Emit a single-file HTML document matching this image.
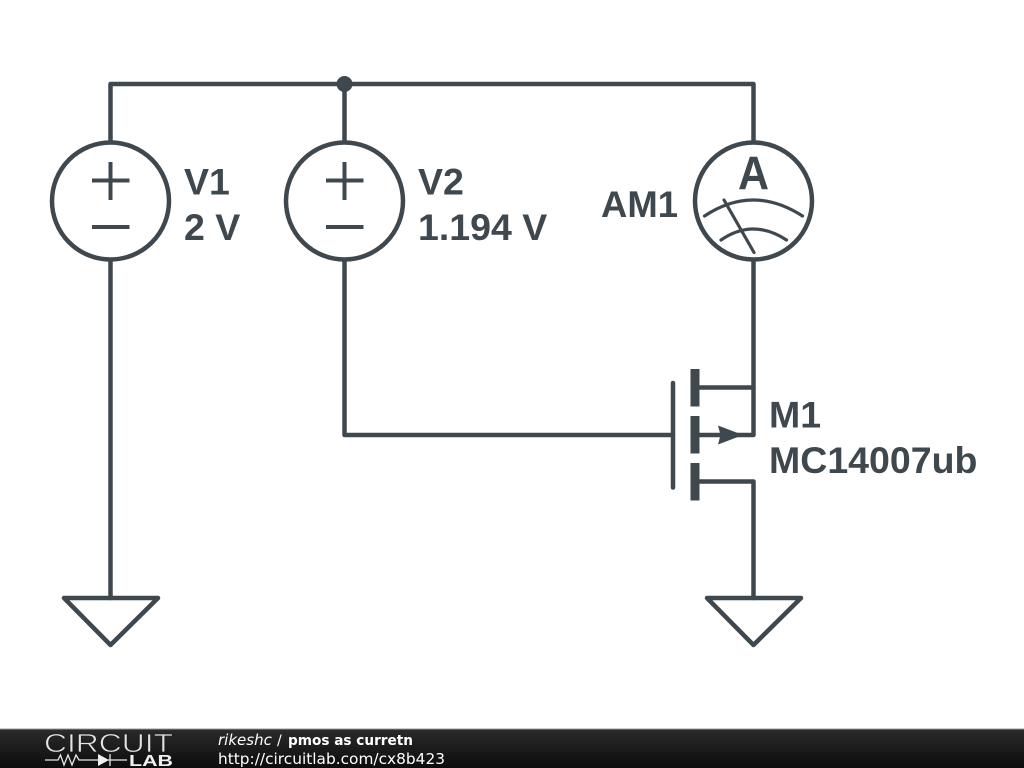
<!DOCTYPE html>
<html>
<head>
<meta charset="utf-8">
<style>
html,body{margin:0;padding:0;background:#fff;width:1024px;height:768px;overflow:hidden}
svg{display:block}
.l{font-family:"Liberation Sans",sans-serif;font-weight:700;font-size:37.500px;fill:#3f484e}
</style>
</head>
<body>
<svg width="1024" height="768" viewBox="0 0 1024 768" xmlns="http://www.w3.org/2000/svg">
<defs>
<linearGradient id="bar" x1="0" y1="0" x2="0" y2="1">
<stop offset="0" stop-color="#2b2b2b"/><stop offset="1" stop-color="#0c0c0c"/>
</linearGradient>
</defs>
<rect width="1024" height="768" fill="#fff"/>
<g fill="none" stroke="#3f484e" stroke-width="4.500" stroke-linejoin="round" stroke-linecap="round">
<!-- wires -->
<path d="M110.500 142V84H753.500V142"/>
<path d="M344.500 84V142"/>
<path d="M110.500 260V598"/>
<path d="M344.500 260V435H673"/>
<path d="M753.500 260V435H699"/>
<path d="M699 387.500H753.500"/>
<path d="M699 481.500H753.500V598"/>
<!-- sources -->
<circle cx="110.500" cy="201" r="58.500"/>
<circle cx="344.500" cy="201" r="58.500"/>
<circle cx="753.500" cy="201" r="58.500"/>
<g stroke-linecap="butt" stroke-width="4">
<path d="M92 180.500H129.500M110.500 162V200M92 227H129.500"/>
<path d="M326 180.500H363.500M344.500 162V200M326 227H363.500"/>
</g>
<!-- ammeter -->
<g stroke-width="3.200">
<path d="M704.500 216Q753 184 802.500 216"/>
<path d="M721 240Q753 218 786.500 240"/>
<path d="M724 200L754 252.500"/>
</g>
<!-- grounds -->
<path d="M64 598H158L110.500 645Z"/>
<path d="M707 598H801L753.500 645Z"/>
<!-- gate -->
<path d="M673 383V487.500"/>
</g>
<!-- channel -->
<g fill="#3f484e">
<rect x="690.500" y="369" width="9" height="37.500"/>
<rect x="690.500" y="416" width="9" height="37.500"/>
<rect x="690.500" y="463" width="9" height="37.500"/>
<path d="M718 425.500L743 435L718 444.500L720.500 435Z"/>
<circle cx="344.500" cy="84" r="8"/>
</g>
<!-- labels -->
<text class="l" x="184" y="194.500">V1</text>
<text class="l" x="184" y="240">2 V</text>
<text class="l" x="418" y="194.500">V2</text>
<text class="l" x="418" y="240">1.194 V</text>
<text class="l" x="601" y="217" textLength="77" lengthAdjust="spacingAndGlyphs">AM1</text>
<text class="l" x="769" y="427.500">M1</text>
<text class="l" x="769" y="473">MC14007ub</text>
<text class="l" text-anchor="middle" transform="translate(753.500 189.500) scale(1 1.100)" style="font-size:43px">A</text>
<!-- footer -->
<rect x="0" y="729" width="1024" height="39" fill="url(#bar)"/>
<rect x="0" y="728.500" width="1024" height="1" fill="#9a9a9a"/>
<text x="44" y="752" textLength="129" lengthAdjust="spacingAndGlyphs" font-family="'Liberation Sans',sans-serif" font-size="26" fill="#e4e4e4" stroke="#1e1e1e" stroke-width="0.700" paint-order="fill">CIRCUIT</text>
<g fill="none" stroke="#e8e8e8" stroke-width="1.300">
<path d="M45 760H58L60.500 755L64 765L68 755L72 765L76 755L79 760H99"/>
<path d="M108 760H127"/>
<path d="M110 754V766"/>
</g>
<path d="M98 754L109 760L98 766Z" fill="#f0f0f0"/>
<text x="129" y="766" textLength="44" lengthAdjust="spacingAndGlyphs" font-family="'Liberation Sans',sans-serif" font-weight="700" font-size="16" fill="#f0f0f0">LAB</text>
<text x="218" y="745" font-family="'DejaVu Sans',sans-serif" font-size="15" font-style="oblique" fill="#fff">rikeshc</text>
<text x="277" y="745" font-family="'DejaVu Sans',sans-serif" font-size="14" fill="#fff">/</text>
<text x="288" y="745" textLength="125" lengthAdjust="spacingAndGlyphs" font-family="'DejaVu Sans',sans-serif" font-size="14.500" font-weight="700" fill="#fff">pmos as curretn</text>
<text x="218" y="764" textLength="227" lengthAdjust="spacingAndGlyphs" font-family="'DejaVu Sans',sans-serif" font-size="15.300" fill="#fff">http://circuitlab.com/cx8b423</text>
</svg>
</body>
</html>
